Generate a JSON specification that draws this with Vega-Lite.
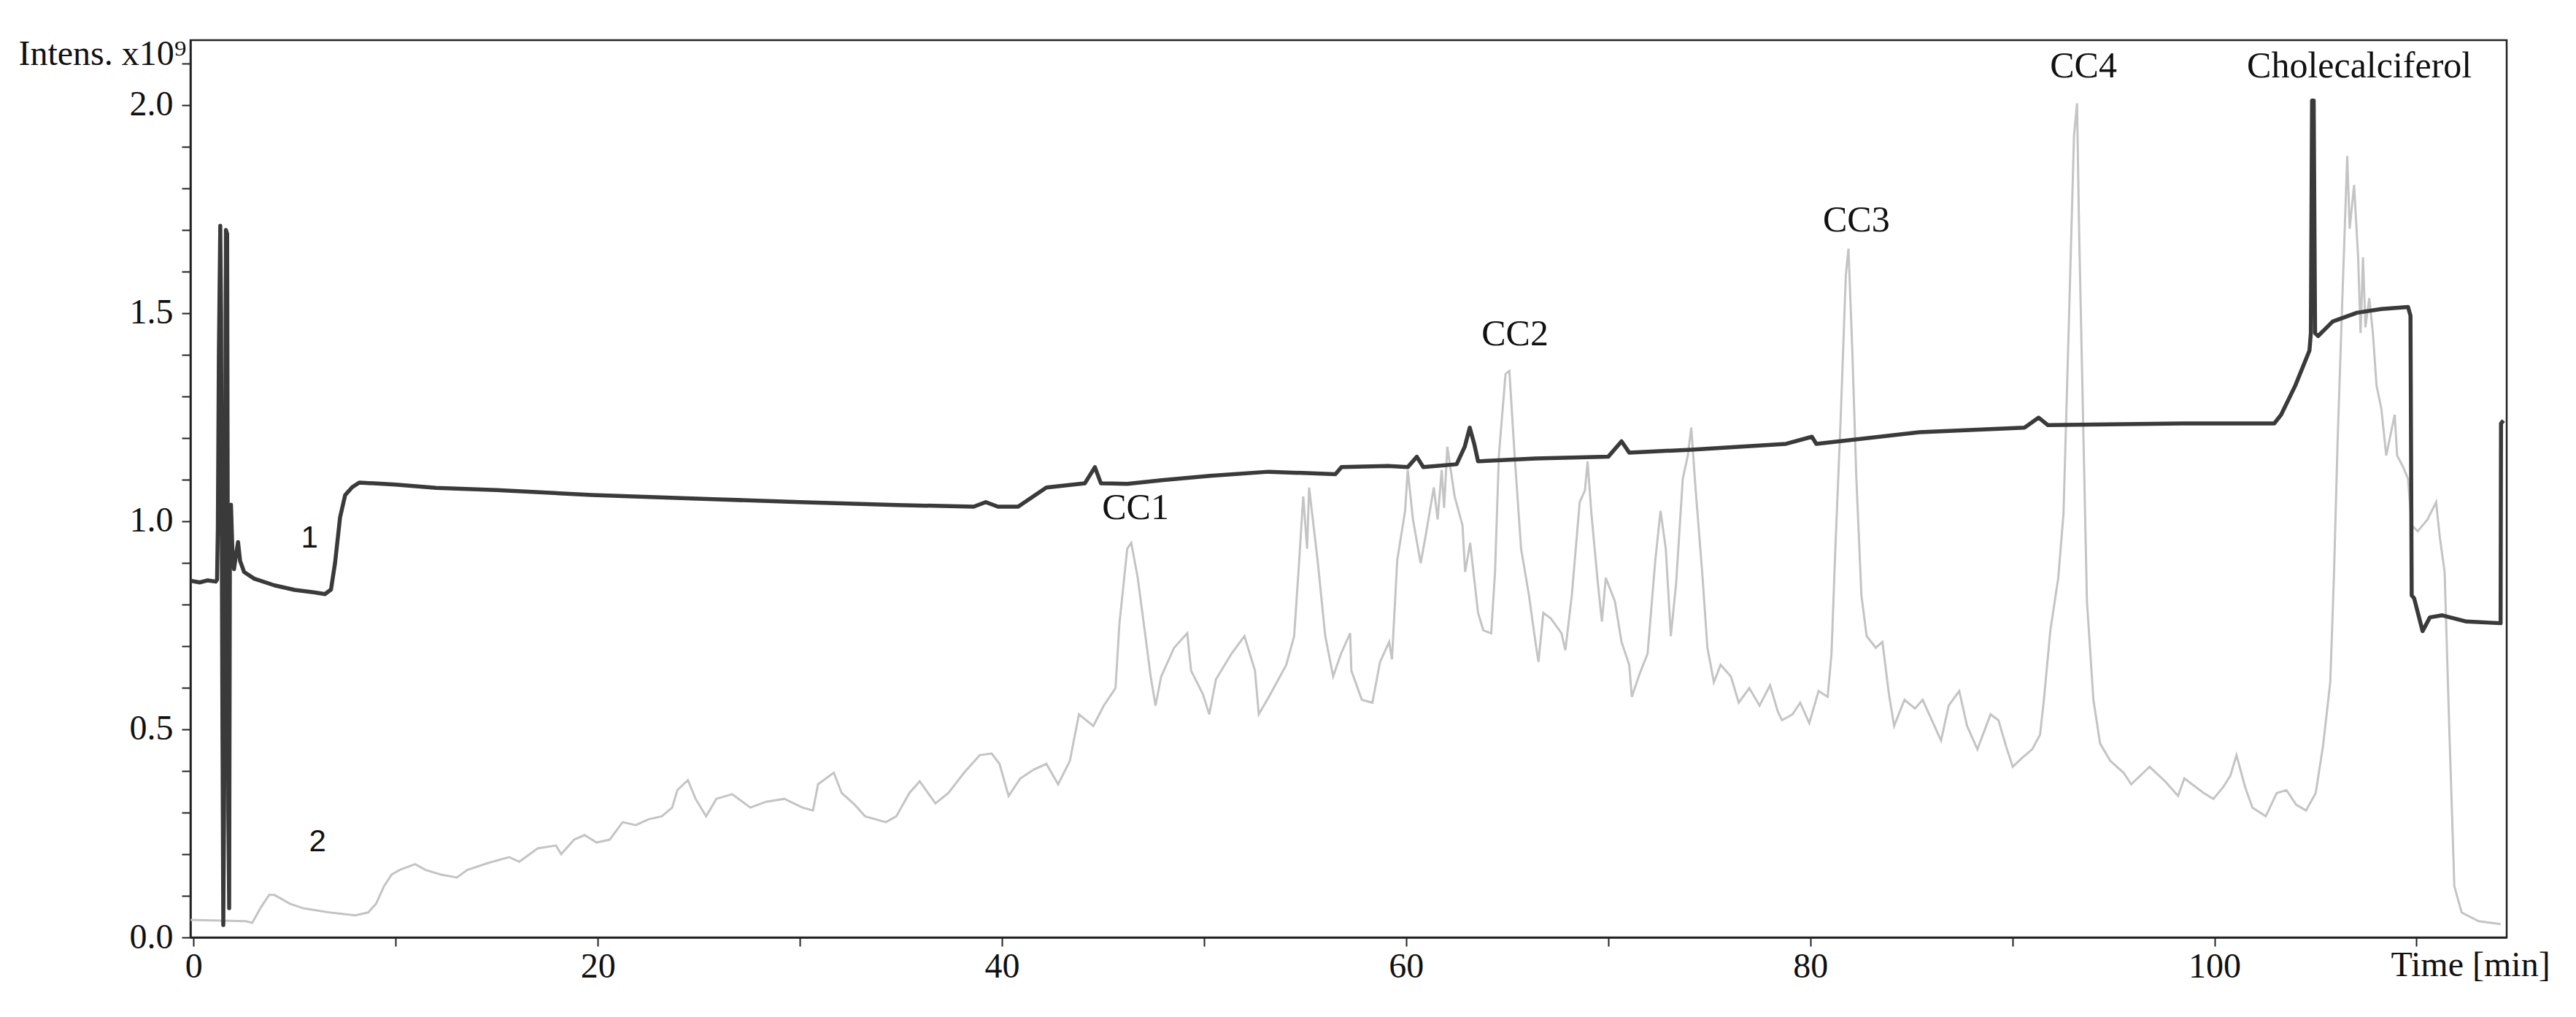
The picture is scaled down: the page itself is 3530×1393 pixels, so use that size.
{
  "$schema": "https://vega.github.io/schema/vega-lite/v6.json",
  "width": 3174,
  "height": 1229,
  "autosize": {"type": "none"},
  "padding": {"left": 261, "top": 55, "right": 95, "bottom": 109},
  "background": "white",
  "view": {"stroke": "#222222", "strokeWidth": 2.5},
  "config": {
    "font": "Liberation Serif",
    "axis": {"grid": false, "domainColor": "#222222", "domainWidth": 2.5, "tickColor": "#222222", "tickWidth": 2, "labelFont": "Liberation Serif", "titleFont": "Liberation Serif", "labelColor": "#111111", "titleColor": "#111111", "titleFontWeight": "normal"}
  },
  "datasets": {
    "trace1": [
      {"t": -0.15, "v": 0.857}, {"t": 0.3, "v": 0.853}, {"t": 0.7, "v": 0.858}, {"t": 1.1, "v": 0.855},
      {"t": 1.16, "v": 0.86}, {"t": 1.2, "v": 0.98}, {"t": 1.25, "v": 1.40}, {"t": 1.32, "v": 1.71},
      {"t": 1.36, "v": 1.5}, {"t": 1.42, "v": 0.6}, {"t": 1.47, "v": 0.03}, {"t": 1.52, "v": 0.4},
      {"t": 1.6, "v": 1.70}, {"t": 1.66, "v": 1.69}, {"t": 1.72, "v": 0.3}, {"t": 1.76, "v": 0.07},
      {"t": 1.8, "v": 1.0}, {"t": 1.85, "v": 1.04}, {"t": 1.92, "v": 0.93}, {"t": 2.0, "v": 0.885},
      {"t": 2.1, "v": 0.92}, {"t": 2.2, "v": 0.95}, {"t": 2.3, "v": 0.905}, {"t": 2.5, "v": 0.878},
      {"t": 3.0, "v": 0.862}, {"t": 4.0, "v": 0.846}, {"t": 5.0, "v": 0.835}, {"t": 6.0, "v": 0.829},
      {"t": 6.5, "v": 0.825}, {"t": 6.8, "v": 0.836}, {"t": 7.0, "v": 0.9}, {"t": 7.25, "v": 1.01},
      {"t": 7.5, "v": 1.063}, {"t": 7.85, "v": 1.082}, {"t": 8.2, "v": 1.093}, {"t": 10.0, "v": 1.088},
      {"t": 12.0, "v": 1.08}, {"t": 15.0, "v": 1.075}, {"t": 19.7, "v": 1.063}, {"t": 25.7, "v": 1.053},
      {"t": 30.0, "v": 1.046}, {"t": 34.8, "v": 1.039}, {"t": 38.6, "v": 1.035}, {"t": 39.2, "v": 1.046},
      {"t": 39.8, "v": 1.035}, {"t": 40.8, "v": 1.035}, {"t": 42.2, "v": 1.081}, {"t": 44.1, "v": 1.091},
      {"t": 44.6, "v": 1.13}, {"t": 44.9, "v": 1.091}, {"t": 46.2, "v": 1.09}, {"t": 48.0, "v": 1.099},
      {"t": 50.3, "v": 1.109}, {"t": 53.2, "v": 1.119}, {"t": 56.5, "v": 1.113}, {"t": 56.8, "v": 1.13},
      {"t": 59.1, "v": 1.133}, {"t": 60.08, "v": 1.13}, {"t": 60.53, "v": 1.155}, {"t": 60.85, "v": 1.13},
      {"t": 62.5, "v": 1.137}, {"t": 62.9, "v": 1.179}, {"t": 63.15, "v": 1.225}, {"t": 63.37, "v": 1.186},
      {"t": 63.56, "v": 1.144}, {"t": 66.4, "v": 1.151}, {"t": 70.0, "v": 1.155}, {"t": 70.66, "v": 1.192},
      {"t": 71.04, "v": 1.165}, {"t": 74.1, "v": 1.172}, {"t": 78.8, "v": 1.186}, {"t": 80.08, "v": 1.203},
      {"t": 80.3, "v": 1.186}, {"t": 85.4, "v": 1.214}, {"t": 90.6, "v": 1.225}, {"t": 91.3, "v": 1.249},
      {"t": 91.76, "v": 1.231}, {"t": 98.46, "v": 1.235}, {"t": 102.96, "v": 1.235}, {"t": 103.3, "v": 1.256},
      {"t": 104.0, "v": 1.326}, {"t": 104.7, "v": 1.41}, {"t": 104.77, "v": 1.452}, {"t": 104.83, "v": 2.011},
      {"t": 104.91, "v": 2.011}, {"t": 104.98, "v": 1.452}, {"t": 105.13, "v": 1.445}, {"t": 105.85, "v": 1.48},
      {"t": 107.05, "v": 1.501}, {"t": 108.26, "v": 1.51}, {"t": 109.58, "v": 1.515}, {"t": 109.7, "v": 1.494},
      {"t": 109.76, "v": 0.822}, {"t": 109.88, "v": 0.815}, {"t": 110.3, "v": 0.736}, {"t": 110.66, "v": 0.769},
      {"t": 111.27, "v": 0.774}, {"t": 112.47, "v": 0.759}, {"t": 114.16, "v": 0.755}, {"t": 114.18, "v": 1.235},
      {"t": 114.3, "v": 1.242}
    ],
    "trace2": [
      {"t": -0.15, "v": 0.042}, {"t": 2.58, "v": 0.039}, {"t": 2.9, "v": 0.035}, {"t": 3.35, "v": 0.074},
      {"t": 3.74, "v": 0.102}, {"t": 4.0, "v": 0.102}, {"t": 4.77, "v": 0.081}, {"t": 5.42, "v": 0.07},
      {"t": 6.71, "v": 0.06}, {"t": 8.0, "v": 0.053}, {"t": 8.64, "v": 0.06}, {"t": 9.03, "v": 0.081},
      {"t": 9.42, "v": 0.123}, {"t": 9.8, "v": 0.151}, {"t": 10.19, "v": 0.162}, {"t": 10.96, "v": 0.176},
      {"t": 11.48, "v": 0.162}, {"t": 12.25, "v": 0.151}, {"t": 13.03, "v": 0.144}, {"t": 13.54, "v": 0.162},
      {"t": 14.58, "v": 0.179}, {"t": 15.61, "v": 0.193}, {"t": 16.12, "v": 0.182}, {"t": 17.03, "v": 0.214},
      {"t": 17.93, "v": 0.221}, {"t": 18.19, "v": 0.2}, {"t": 18.83, "v": 0.235}, {"t": 19.35, "v": 0.246},
      {"t": 19.94, "v": 0.228}, {"t": 20.59, "v": 0.235}, {"t": 21.23, "v": 0.277}, {"t": 21.88, "v": 0.27},
      {"t": 22.52, "v": 0.284}, {"t": 23.17, "v": 0.291}, {"t": 23.68, "v": 0.312}, {"t": 23.94, "v": 0.354},
      {"t": 24.46, "v": 0.378}, {"t": 24.84, "v": 0.333}, {"t": 25.36, "v": 0.291}, {"t": 25.87, "v": 0.333},
      {"t": 26.65, "v": 0.344}, {"t": 27.55, "v": 0.312}, {"t": 28.33, "v": 0.326}, {"t": 29.23, "v": 0.333},
      {"t": 30.13, "v": 0.312}, {"t": 30.65, "v": 0.305}, {"t": 30.9, "v": 0.368}, {"t": 31.68, "v": 0.396},
      {"t": 32.07, "v": 0.347}, {"t": 32.71, "v": 0.319}, {"t": 33.23, "v": 0.291}, {"t": 34.26, "v": 0.277},
      {"t": 34.77, "v": 0.291}, {"t": 35.42, "v": 0.347}, {"t": 35.93, "v": 0.375}, {"t": 36.71, "v": 0.322},
      {"t": 37.35, "v": 0.347}, {"t": 38.13, "v": 0.396}, {"t": 38.9, "v": 0.438}, {"t": 39.49, "v": 0.442},
      {"t": 39.88, "v": 0.417}, {"t": 40.33, "v": 0.34}, {"t": 40.91, "v": 0.382}, {"t": 41.56, "v": 0.403},
      {"t": 42.2, "v": 0.417}, {"t": 42.78, "v": 0.368}, {"t": 43.36, "v": 0.424}, {"t": 43.81, "v": 0.536},
      {"t": 44.52, "v": 0.508}, {"t": 45.04, "v": 0.557}, {"t": 45.62, "v": 0.599}, {"t": 45.81, "v": 0.752},
      {"t": 46.2, "v": 0.934}, {"t": 46.4, "v": 0.948}, {"t": 46.72, "v": 0.864}, {"t": 47.1, "v": 0.724},
      {"t": 47.36, "v": 0.627}, {"t": 47.6, "v": 0.557}, {"t": 47.88, "v": 0.627}, {"t": 48.52, "v": 0.696},
      {"t": 49.17, "v": 0.731}, {"t": 49.36, "v": 0.641}, {"t": 49.94, "v": 0.585}, {"t": 50.26, "v": 0.536},
      {"t": 50.59, "v": 0.62}, {"t": 51.36, "v": 0.682}, {"t": 52.0, "v": 0.724}, {"t": 52.52, "v": 0.641},
      {"t": 52.71, "v": 0.536}, {"t": 53.29, "v": 0.585}, {"t": 54.07, "v": 0.655}, {"t": 54.46, "v": 0.724},
      {"t": 54.71, "v": 0.906}, {"t": 54.91, "v": 1.06}, {"t": 55.1, "v": 0.934}, {"t": 55.2, "v": 1.081},
      {"t": 55.62, "v": 0.906}, {"t": 56.0, "v": 0.724}, {"t": 56.39, "v": 0.627}, {"t": 56.78, "v": 0.682},
      {"t": 57.23, "v": 0.731}, {"t": 57.29, "v": 0.641}, {"t": 57.81, "v": 0.571}, {"t": 58.33, "v": 0.564},
      {"t": 58.71, "v": 0.662}, {"t": 59.16, "v": 0.71}, {"t": 59.3, "v": 0.668}, {"t": 59.56, "v": 0.906},
      {"t": 59.95, "v": 1.025}, {"t": 60.08, "v": 1.123}, {"t": 60.34, "v": 1.004}, {"t": 60.72, "v": 0.899},
      {"t": 60.98, "v": 0.969}, {"t": 61.37, "v": 1.081}, {"t": 61.56, "v": 1.004}, {"t": 61.76, "v": 1.123},
      {"t": 61.88, "v": 1.032}, {"t": 62.04, "v": 1.179}, {"t": 62.4, "v": 1.06}, {"t": 62.79, "v": 0.99},
      {"t": 62.92, "v": 0.878}, {"t": 63.17, "v": 0.948}, {"t": 63.56, "v": 0.78}, {"t": 63.82, "v": 0.738},
      {"t": 64.21, "v": 0.731}, {"t": 64.4, "v": 0.878}, {"t": 64.59, "v": 1.158}, {"t": 64.92, "v": 1.354},
      {"t": 65.11, "v": 1.361}, {"t": 65.37, "v": 1.158}, {"t": 65.69, "v": 0.934}, {"t": 66.08, "v": 0.822},
      {"t": 66.4, "v": 0.71}, {"t": 66.55, "v": 0.662}, {"t": 66.79, "v": 0.78}, {"t": 67.17, "v": 0.766},
      {"t": 67.69, "v": 0.731}, {"t": 67.88, "v": 0.69}, {"t": 68.2, "v": 0.822}, {"t": 68.59, "v": 1.046},
      {"t": 68.85, "v": 1.074}, {"t": 68.98, "v": 1.144}, {"t": 69.17, "v": 1.018}, {"t": 69.49, "v": 0.85},
      {"t": 69.69, "v": 0.759}, {"t": 69.88, "v": 0.864}, {"t": 70.33, "v": 0.808}, {"t": 70.66, "v": 0.71},
      {"t": 71.04, "v": 0.655}, {"t": 71.17, "v": 0.578}, {"t": 71.56, "v": 0.634}, {"t": 71.95, "v": 0.682},
      {"t": 72.33, "v": 0.906}, {"t": 72.59, "v": 1.025}, {"t": 72.85, "v": 0.934}, {"t": 73.1, "v": 0.724},
      {"t": 73.36, "v": 0.85}, {"t": 73.69, "v": 1.102}, {"t": 73.94, "v": 1.158}, {"t": 74.11, "v": 1.225},
      {"t": 74.33, "v": 1.074}, {"t": 74.65, "v": 0.878}, {"t": 74.91, "v": 0.696}, {"t": 75.23, "v": 0.613},
      {"t": 75.56, "v": 0.655}, {"t": 76.07, "v": 0.627}, {"t": 76.46, "v": 0.564}, {"t": 76.98, "v": 0.599},
      {"t": 77.49, "v": 0.557}, {"t": 78.01, "v": 0.606}, {"t": 78.39, "v": 0.543}, {"t": 78.6, "v": 0.522},
      {"t": 79.12, "v": 0.536}, {"t": 79.5, "v": 0.564}, {"t": 79.95, "v": 0.515}, {"t": 80.41, "v": 0.592},
      {"t": 80.86, "v": 0.578}, {"t": 81.05, "v": 0.682}, {"t": 81.24, "v": 0.934}, {"t": 81.5, "v": 1.242},
      {"t": 81.76, "v": 1.592}, {"t": 81.89, "v": 1.655}, {"t": 82.08, "v": 1.41}, {"t": 82.28, "v": 1.102},
      {"t": 82.53, "v": 0.822}, {"t": 82.79, "v": 0.724}, {"t": 83.24, "v": 0.696}, {"t": 83.57, "v": 0.71},
      {"t": 83.89, "v": 0.585}, {"t": 84.15, "v": 0.508}, {"t": 84.66, "v": 0.571}, {"t": 85.18, "v": 0.55},
      {"t": 85.56, "v": 0.571}, {"t": 86.08, "v": 0.515}, {"t": 86.47, "v": 0.473}, {"t": 86.85, "v": 0.557},
      {"t": 87.37, "v": 0.592}, {"t": 87.76, "v": 0.508}, {"t": 88.27, "v": 0.452}, {"t": 88.92, "v": 0.536},
      {"t": 89.31, "v": 0.522}, {"t": 89.69, "v": 0.459}, {"t": 90.02, "v": 0.41}, {"t": 90.47, "v": 0.431},
      {"t": 90.98, "v": 0.452}, {"t": 91.37, "v": 0.487}, {"t": 91.56, "v": 0.571}, {"t": 91.88, "v": 0.738},
      {"t": 92.27, "v": 0.864}, {"t": 92.53, "v": 1.018}, {"t": 92.79, "v": 1.466}, {"t": 93.05, "v": 1.927},
      {"t": 93.2, "v": 2.004}, {"t": 93.3, "v": 1.703}, {"t": 93.5, "v": 1.242}, {"t": 93.69, "v": 0.808},
      {"t": 94.01, "v": 0.571}, {"t": 94.34, "v": 0.466}, {"t": 94.85, "v": 0.424}, {"t": 95.5, "v": 0.396},
      {"t": 95.88, "v": 0.368}, {"t": 96.79, "v": 0.41}, {"t": 97.56, "v": 0.375}, {"t": 98.2, "v": 0.34},
      {"t": 98.51, "v": 0.382}, {"t": 99.47, "v": 0.347}, {"t": 99.95, "v": 0.333}, {"t": 100.43, "v": 0.361},
      {"t": 100.79, "v": 0.389}, {"t": 101.09, "v": 0.438}, {"t": 101.52, "v": 0.361}, {"t": 101.88, "v": 0.312},
      {"t": 102.54, "v": 0.291}, {"t": 103.08, "v": 0.347}, {"t": 103.56, "v": 0.354}, {"t": 104.04, "v": 0.319},
      {"t": 104.53, "v": 0.305}, {"t": 105.01, "v": 0.347}, {"t": 105.37, "v": 0.459}, {"t": 105.73, "v": 0.613},
      {"t": 105.91, "v": 0.864}, {"t": 106.09, "v": 1.186}, {"t": 106.33, "v": 1.536}, {"t": 106.57, "v": 1.878},
      {"t": 106.69, "v": 1.703}, {"t": 106.91, "v": 1.808}, {"t": 107.11, "v": 1.634}, {"t": 107.23, "v": 1.452},
      {"t": 107.35, "v": 1.634}, {"t": 107.47, "v": 1.466}, {"t": 107.66, "v": 1.536}, {"t": 107.84, "v": 1.452},
      {"t": 108.02, "v": 1.326}, {"t": 108.26, "v": 1.27}, {"t": 108.5, "v": 1.158}, {"t": 108.92, "v": 1.256},
      {"t": 109.04, "v": 1.158}, {"t": 109.34, "v": 1.13}, {"t": 109.58, "v": 1.102}, {"t": 109.76, "v": 0.99},
      {"t": 110.06, "v": 0.976}, {"t": 110.54, "v": 1.004}, {"t": 110.97, "v": 1.046}, {"t": 111.15, "v": 0.962},
      {"t": 111.39, "v": 0.878}, {"t": 111.63, "v": 0.487}, {"t": 111.87, "v": 0.123}, {"t": 112.23, "v": 0.06},
      {"t": 113.07, "v": 0.039}, {"t": 114.16, "v": 0.032}
    ],
    "peaks": [
      {"t": 46.61, "v": 1.032, "label": "CC1"},
      {"t": 65.39, "v": 1.449, "label": "CC2"},
      {"t": 82.28, "v": 1.722, "label": "CC3"},
      {"t": 93.52, "v": 2.092, "label": "CC4"},
      {"t": 107.17, "v": 2.092, "label": "Cholecalciferol"}
    ],
    "traceLabels": [
      {"t": 5.74, "v": 0.959, "label": "1"},
      {"t": 6.13, "v": 0.229, "label": "2"}
    ]
  },
  "encoding": {
    "x": {
      "field": "t", "type": "quantitative",
      "scale": {"domain": [-0.155, 114.46], "nice": false, "zero": false},
      "axis": {
        "title": "Time [min]", "titleX": 3124, "titleY": 52, "titleAlign": "center", "titleBaseline": "alphabetic",
        "titleFontSize": 48, "titleAnchor": null,
        "values": [0, 10, 20, 30, 40, 50, 60, 70, 80, 90, 100, 110],
        "labelExpr": "datum.value % 20 == 0 && datum.value <= 100 ? datum.label : ''",
        "labelFontSize": 48, "tickSize": 12, "labelPadding": 4, "labelBaseline": "top", "labelFlush": false, "labelOverlap": false
      }
    },
    "y": {
      "field": "v", "type": "quantitative",
      "scale": {"domain": [0, 2.156], "nice": false, "zero": false},
      "axis": {
        "title": "Intens. x10⁹", "titleAngle": 0, "titleAlign": "right", "titleBaseline": "alphabetic",
        "titleX": -6, "titleY": 33, "titleFontSize": 48, "titleAnchor": null,
        "values": [0, 0.1, 0.2, 0.3, 0.4, 0.5, 0.6, 0.7, 0.8, 0.9, 1, 1.1, 1.2, 1.3, 1.4, 1.5, 1.6, 1.7, 1.8, 1.9, 2, 2.1],
        "labelExpr": "round(datum.value * 10) % 5 == 0 ? format(datum.value, '.1f') : ''",
        "labelFontSize": 48, "tickSize": 12, "labelPadding": 12, "labelOverlap": false, "labelFlush": false
      }
    }
  },
  "layer": [
    {
      "data": {"name": "trace2"},
      "mark": {"type": "line", "color": "#c4c4c4", "strokeWidth": 3, "interpolate": "linear", "clip": true}
    },
    {
      "data": {"name": "trace1"},
      "mark": {"type": "line", "color": "#3a3a3a", "strokeWidth": 5.5, "interpolate": "linear", "strokeJoin": "round", "clip": true}
    },
    {
      "data": {"name": "peaks"},
      "mark": {"type": "text", "font": "Liberation Serif", "fontSize": 50, "color": "#111111", "align": "center", "baseline": "middle"},
      "encoding": {"text": {"field": "label", "type": "nominal"}}
    },
    {
      "data": {"name": "traceLabels"},
      "mark": {"type": "text", "font": "Liberation Sans", "fontSize": 42, "color": "#111111", "align": "center", "baseline": "middle"},
      "encoding": {"text": {"field": "label", "type": "nominal"}}
    }
  ]
}
